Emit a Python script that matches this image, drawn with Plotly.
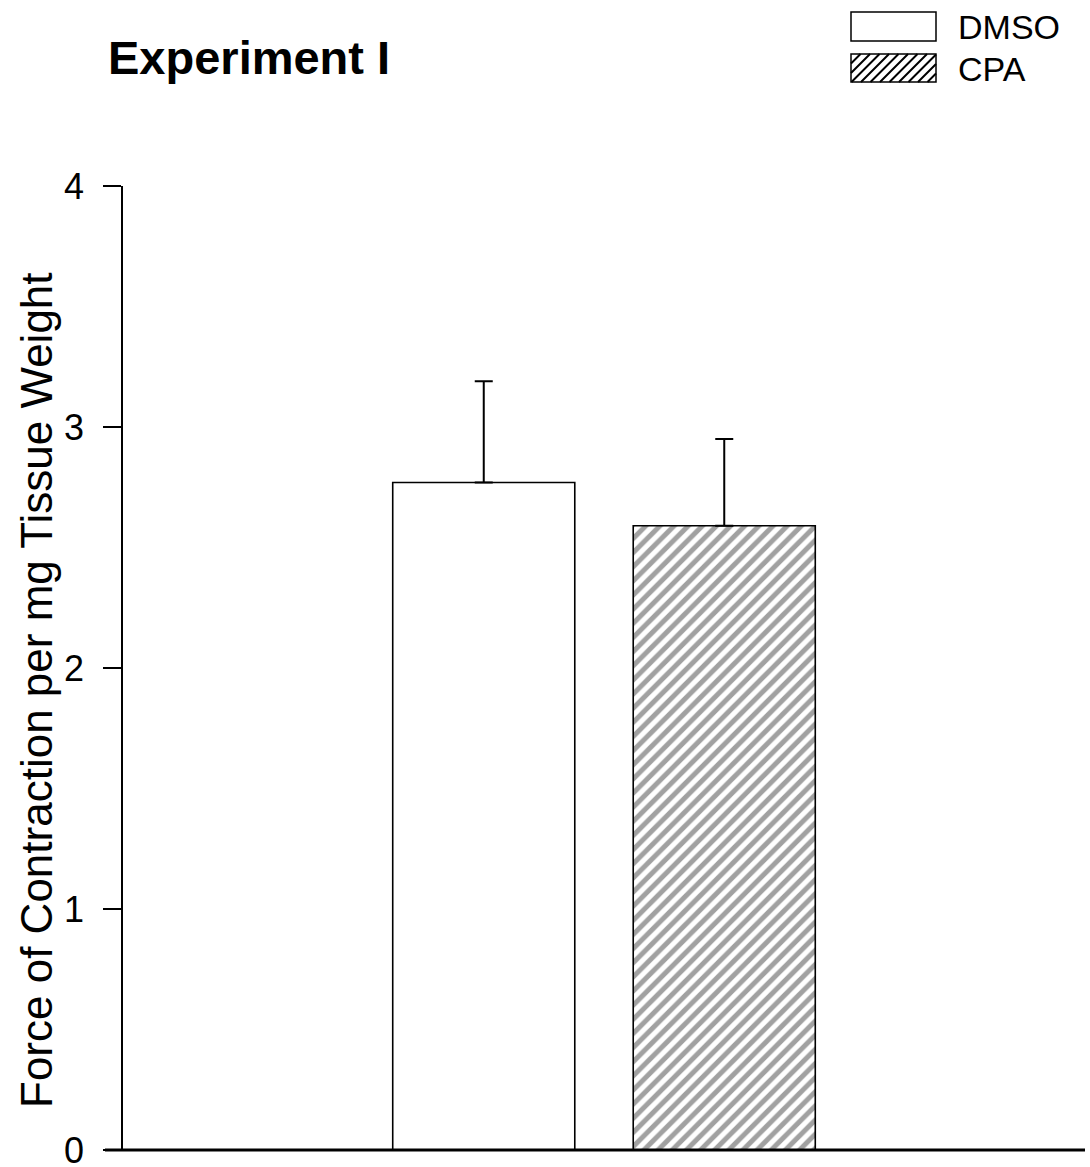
import plotly.graph_objects as go

# ---- data ----
categories = ["DMSO", "CPA"]
means = [2.77, 2.59]
sem_upper = [0.42, 0.36]
y_ticks = [0, 1, 2, 3, 4]
y_ticklabels = ["0", "1", "2", "3", "4"]

FONT = "Liberation Sans, Arial, Helvetica, sans-serif"

# layout geometry (pixels)
W, H = 1090, 1167
L, R, T, B = 123, 5, 186, 17
PW = W - L - R
PH = H - T - B


def px2paper(px, py):
    return (px - L) / PW, (H - B - py) / PH


fig = go.Figure()

fig.add_trace(go.Bar(
    x=categories, y=means,
    width=0.757,
    marker=dict(
        color=["white", "white"],
        line=dict(color="black", width=1.6),
        pattern=dict(shape=["", "/"], size=10, solidity=0.5,
                     fgcolor="black", bgcolor="white", fillmode="overlay"),
    ),
    error_y=dict(type="data", symmetric=False, array=sem_upper,
                 arrayminus=[0, 0], color="black", thickness=2, width=9),
    showlegend=False,
))

shapes = []
# x-axis line extending slightly left of the y axis
x0p, y0p = px2paper(105, 1150)
x1p, _ = px2paper(1085, 1150)
shapes.append(dict(type="line", xref="paper", yref="paper", x0=x0p, x1=x1p,
                   y0=0, y1=0, line=dict(color="black", width=3)))

# legend swatches
def rect(px0, py0, px1, py1):
    a, b = px2paper(px0, py1)
    c, d = px2paper(px1, py0)
    return dict(type="rect", xref="paper", yref="paper", x0=a, y0=b, x1=c, y1=d,
                line=dict(color="black", width=1.5), fillcolor="white")


shapes.append(rect(851, 12, 936, 41))
shapes.append(rect(851, 54, 936, 82))

# hatch lines inside the CPA swatch ("/" diagonals)
hx0, hy0, hx1, hy1 = 851, 54, 936, 82
spacing = 9.5
path = ""
k = hx0 - (hy1 - hy0)
while k < hx1:
    sx, sy = k, hy1
    ex, ey = k + (hy1 - hy0), hy0
    if sx < hx0:
        sy = hy1 - (hx0 - k)
        sx = hx0
    if ex > hx1:
        ey = hy1 - (hx1 - k)
        ex = hx1
    if ex > sx:
        a, b = px2paper(sx, sy)
        c, d = px2paper(ex, ey)
        path += f"M{a},{b} L{c},{d} "
    k += spacing
shapes.append(dict(type="path", xref="paper", yref="paper", path=path,
                   line=dict(color="black", width=2)))

annotations = []
tx, ty = px2paper(106, 57)
annotations.append(dict(text="<b>Experiment I</b>", x=tx, y=ty, xref="paper",
                        yref="paper", xanchor="left", yanchor="middle",
                        showarrow=False, font=dict(family=FONT, size=47, color="black")))
for lab, py in [("DMSO", 27), ("CPA", 69)]:
    ax, ay = px2paper(956, py)
    annotations.append(dict(text=lab, x=ax, y=ay, xref="paper", yref="paper",
                            xanchor="left", yanchor="middle", showarrow=False,
                            font=dict(family=FONT, size=34, color="black")))
yx, yy = px2paper(36, 690)
annotations.append(dict(text="Force of Contraction per mg Tissue Weight",
                        x=yx, y=yy, xref="paper", yref="paper", textangle=-90,
                        xanchor="center", yanchor="middle", showarrow=False,
                        font=dict(family=FONT, size=44, color="black")))

fig.update_layout(
    width=W, height=H,
    margin=dict(l=L, r=R, t=T, b=B, pad=0, autoexpand=False),
    paper_bgcolor="white", plot_bgcolor="white",
    shapes=shapes, annotations=annotations,
    xaxis=dict(range=[-1.5, 2.5], showticklabels=False, showgrid=False,
               zeroline=False, showline=False, ticks="", automargin=False),
    yaxis=dict(range=[0, 4], tickvals=y_ticks, ticktext=y_ticklabels,
               showgrid=False, zeroline=False, showline=True, automargin=False,
               linecolor="black", linewidth=1.5, ticks="outside",
               ticklen=18, tickwidth=1.5, tickcolor="black",
               ticklabelstandoff=12, ticklabeloverflow="allow",
               tickfont=dict(family=FONT, size=36, color="black")),
    font=dict(family=FONT, color="black"),
)

fig.write_html("out.html")
